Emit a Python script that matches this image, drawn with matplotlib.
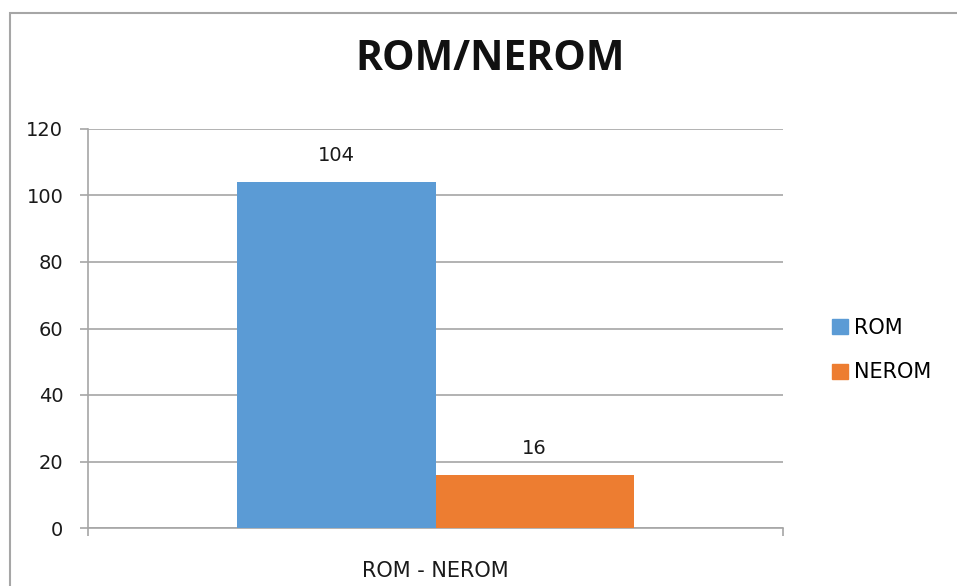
import matplotlib
matplotlib.use("Agg")
import matplotlib.pyplot as plt
from matplotlib.patches import Rectangle, Patch

plt.rcParams['font.family'] = ['DejaVu Sans']

categories = ["ROM - NEROM"]
series_names = ["ROM", "NEROM"]
values = [104, 16]
colors = ["#5B9BD5", "#ED7D31"]
yticks = [0, 20, 40, 60, 80, 100, 120]

W, H = 957, 586
fig = plt.figure(figsize=(W/100, H/100), dpi=100)

# outer chart border (extends beyond the image bottom/right)
fig.patches.append(Rectangle((10/W, -0.1), 1.2, 1 - 13/H + 0.1, transform=fig.transFigure,
                             fill=False, edgecolor="#A6A6A6", linewidth=1.5))

ax = fig.add_axes([88/W, 1 - 528/H, (783-88)/W, (528-129)/H])
bw = 0.285
offsets = [-bw/2, bw/2]
for name, v, c, off in zip(series_names, values, colors, offsets):
    ax.bar(0 + off, v, width=bw, color=c, label=name, zorder=3)
    ax.text(0 + off, v + 6.3, str(v), ha="center", va="baseline", fontsize=14, color="#1a1a1a")

ax.set_xlim(-0.5, 0.5)
ax.set_ylim(0, 120)
ax.set_yticks(yticks)
ax.set_yticklabels([str(t) for t in yticks], fontsize=14, color="#1a1a1a")
ax.yaxis.grid(True, color="#A6A6A6", linewidth=1.2, zorder=0)
ax.set_axisbelow(True)
for s in ["top", "right"]:
    ax.spines[s].set_visible(False)
for s in ["left", "bottom"]:
    ax.spines[s].set_color("#A6A6A6")
    ax.spines[s].set_linewidth(1.2)
ax.tick_params(axis="y", length=5.8, width=1.2, color="#A6A6A6", pad=12)
ax.set_xticks([-0.5, 0.5], minor=False)
ax.set_xticklabels(["", ""])
ax.tick_params(axis="x", length=5.8, width=1.2, color="#A6A6A6")
ax.text(0, -49/399, categories[0], transform=ax.get_xaxis_transform(), ha="center", va="baseline",
        fontsize=15, color="#1a1a1a")

fig.text(490/W, 1 - 70/H, "ROM/NEROM", ha="center", va="baseline", fontsize=29.5, fontweight="bold",
         color="#111111", family=["Open Sans", "DejaVu Sans"])

handles = [Patch(facecolor=c, edgecolor=c) for c in colors]
fig.legend(handles, series_names, loc="center left", bbox_to_anchor=(832/W, 1 - 350/H),
           frameon=False, fontsize=15, handlelength=0.75, handleheight=0.75,
           handletextpad=0.3, labelspacing=1.2, borderpad=0, borderaxespad=0)

fig.savefig("out.png", dpi=100)
